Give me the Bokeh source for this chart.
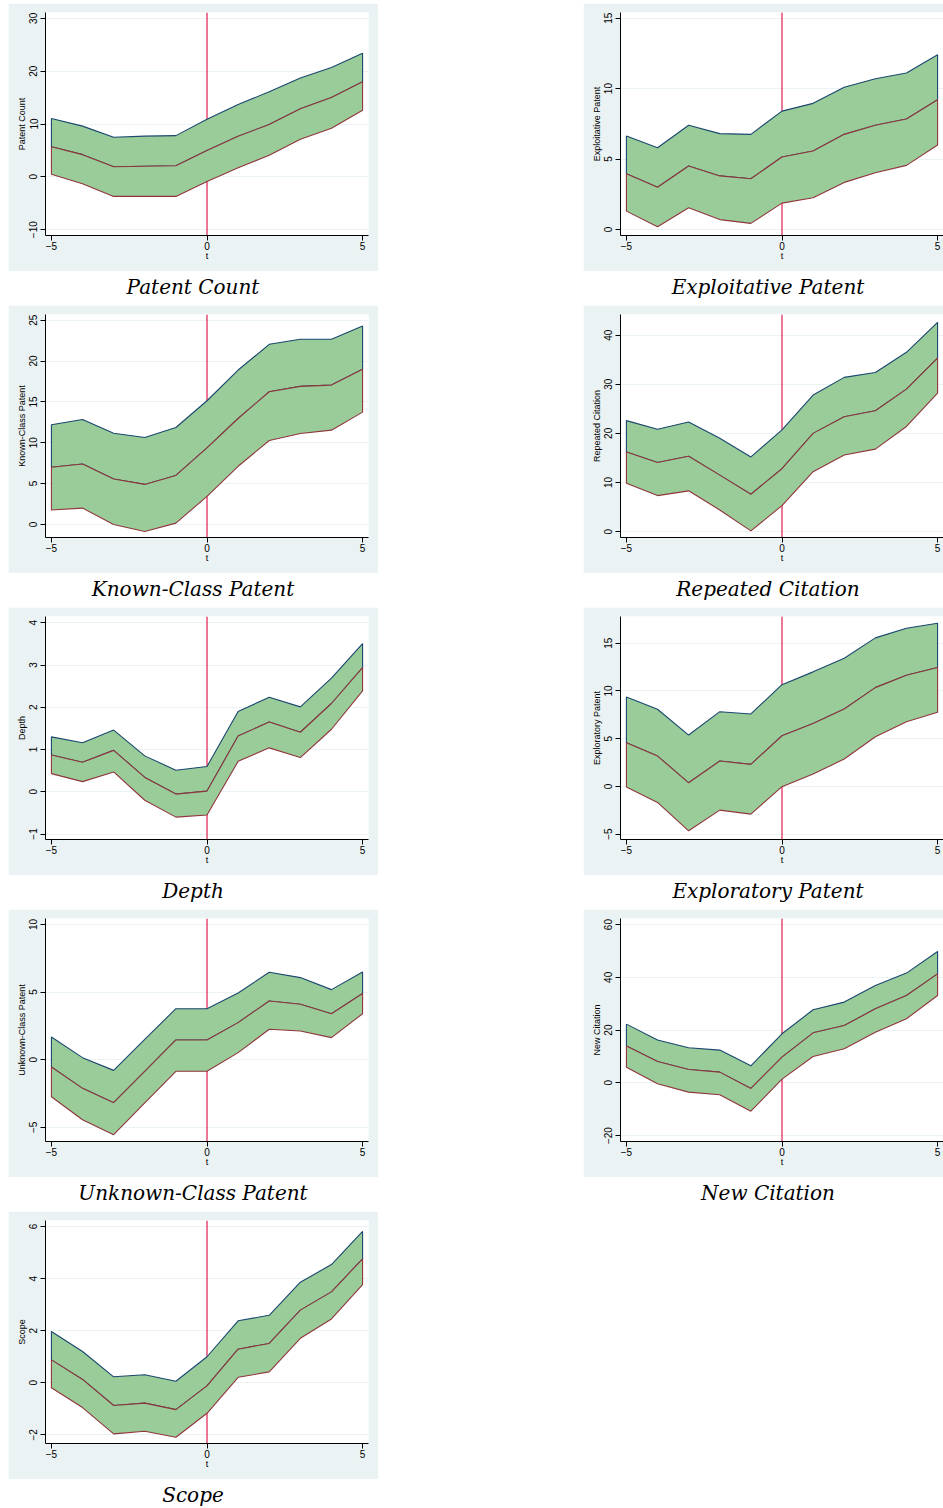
from bokeh.plotting import figure
from bokeh.layouts import row, column
from bokeh.models import Range1d, FixedTicker, Span, Spacer, CustomJSTickFormatter, Div
from bokeh.embed import file_html
from bokeh.resources import INLINE

# ---------------- data ----------------
t = [-5, -4, -3, -2, -1, 0, 1, 2, 3, 4, 5]
x_ticks = [-5, 0, 5]

patent_count_hi = [11.05, 9.6, 7.5, 7.7, 7.8, 10.9, 13.7, 16.1, 18.7, 20.7, 23.4]
patent_count_b = [5.7, 4.2, 1.9, 2.0, 2.1, 5.0, 7.7, 9.9, 12.9, 15.0, 18.0]
patent_count_lo = [0.5, -1.3, -3.7, -3.7, -3.7, -0.9, 1.7, 4.1, 7.1, 9.2, 12.6]

exploitative_hi = [6.63, 5.8, 7.4, 6.8, 6.75, 8.4, 8.95, 10.1, 10.7, 11.1, 12.4]
exploitative_b = [3.96, 3.0, 4.5, 3.8, 3.6, 5.14, 5.57, 6.75, 7.4, 7.84, 9.2]
exploitative_lo = [1.3, 0.19, 1.54, 0.7, 0.43, 1.87, 2.25, 3.34, 4.03, 4.55, 6.0]

known_class_hi = [12.2, 12.85, 11.17, 10.64, 11.87, 15.14, 18.9, 22.05, 22.67, 22.67, 24.3]
known_class_b = [7.0, 7.4, 5.56, 4.9, 6.0, 9.37, 12.97, 16.24, 16.9, 17.06, 19.0]
known_class_lo = [1.76, 2.0, 0.0, -0.86, 0.16, 3.44, 7.12, 10.27, 11.13, 11.54, 13.75]

repeated_cit_hi = [22.6, 20.85, 22.3, 19.0, 15.2, 20.7, 27.8, 31.4, 32.4, 36.5, 42.6]
repeated_cit_b = [16.2, 14.06, 15.35, 11.5, 7.6, 12.8, 20.0, 23.4, 24.6, 29.0, 35.3]
repeated_cit_lo = [9.85, 7.33, 8.3, 4.4, 0.14, 5.3, 12.2, 15.6, 16.8, 21.4, 28.2]

depth_hi = [1.30, 1.16, 1.46, 0.85, 0.51, 0.60, 1.90, 2.24, 2.01, 2.69, 3.51]
depth_b = [0.87, 0.70, 0.98, 0.34, -0.055, 0.016, 1.32, 1.65, 1.41, 2.09, 2.94]
depth_lo = [0.43, 0.24, 0.47, -0.20, -0.60, -0.55, 0.72, 1.04, 0.81, 1.48, 2.39]

exploratory_hi = [9.37, 8.08, 5.38, 7.83, 7.59, 10.66, 12.0, 13.43, 15.56, 16.57, 17.1]
exploratory_b = [4.58, 3.18, 0.38, 2.66, 2.31, 5.31, 6.6, 8.11, 10.35, 11.64, 12.45]
exploratory_lo = [-0.07, -1.68, -4.65, -2.48, -2.9, -0.03, 1.3, 2.87, 5.2, 6.78, 7.76]

unknown_class_hi = [1.68, 0.15, -0.79, 1.5, 3.77, 3.77, 4.93, 6.46, 6.07, 5.18, 6.49]
unknown_class_b = [-0.54, -2.12, -3.18, -0.86, 1.46, 1.46, 2.74, 4.34, 4.1, 3.4, 4.89]
unknown_class_lo = [-2.74, -4.44, -5.55, -3.2, -0.86, -0.86, 0.52, 2.25, 2.12, 1.63, 3.4]

new_cit_hi = [22.25, 16.2, 13.3, 12.4, 6.45, 18.6, 27.7, 30.6, 36.9, 41.6, 49.8]
new_cit_b = [14.0, 8.1, 5.06, 4.05, -2.15, 9.73, 18.96, 21.7, 28.07, 33.1, 41.3]
new_cit_lo = [5.94, -0.38, -3.54, -4.55, -10.75, 1.39, 10.0, 12.9, 19.2, 24.3, 33.1]

scope_hi = [1.97, 1.2, 0.23, 0.31, 0.06, 1.0, 2.38, 2.59, 3.86, 4.54, 5.81]
scope_b = [0.88, 0.13, -0.87, -0.78, -1.03, -0.12, 1.29, 1.51, 2.79, 3.49, 4.76]
scope_lo = [-0.19, -0.95, -1.96, -1.86, -2.09, -1.17, 0.21, 0.42, 1.71, 2.45, 3.77]

captions = ["Patent Count", "Exploitative Patent", "Known-Class Patent",
            "Repeated Citation", "Depth", "Exploratory Patent",
            "Unknown-Class Patent", "New Citation", "Scope"]
y_titles = ["Patent Count", "Exploitative Patent", "Known-Class Patent",
            "Repeated Citation", "Depth", "Exploratory Patent",
            "Unknown-Class Patent", "New Citation", "Scope"]
y_ticks = [[-10, 0, 10, 20, 30], [0, 5, 10, 15], [0, 5, 10, 15, 20, 25],
           [0, 10, 20, 30, 40], [-1, 0, 1, 2, 3, 4], [-5, 0, 5, 10, 15],
           [-5, 0, 5, 10], [-20, 0, 20, 40, 60], [-2, 0, 2, 4, 6]]
y_ranges = [(-11.1, 31.1), (-0.43, 15.4), (-1.6, 25.7), (-1.2, 44.2),
            (-1.13, 4.15), (-5.56, 17.8), (-6.05, 10.44), (-22.25, 62.3),
            (-2.33, 6.23)]
series = [
    (patent_count_lo, patent_count_b, patent_count_hi),
    (exploitative_lo, exploitative_b, exploitative_hi),
    (known_class_lo, known_class_b, known_class_hi),
    (repeated_cit_lo, repeated_cit_b, repeated_cit_hi),
    (depth_lo, depth_b, depth_hi),
    (exploratory_lo, exploratory_b, exploratory_hi),
    (unknown_class_lo, unknown_class_b, unknown_class_hi),
    (new_cit_lo, new_cit_b, new_cit_hi),
    (scope_lo, scope_b, scope_hi),
]

# ---------------- style ----------------
BG = "#EAF2F3"
GREEN = "#99CC99"
NAVY = "#1a476f"
MAROON = "#90353b"
VRED = "#dc1e50"
SANS = "Liberation Sans"
PANEL_W_LEFT = 370
PANEL_W_RIGHT = 360
PANEL_H = 268

minus_fmt = "return (tick < 0 ? '\\u2212' + Math.abs(tick) : '' + tick);"


def make_panel(i, right_side):
    lo, b, hi = series[i]
    w = PANEL_W_RIGHT if right_side else PANEL_W_LEFT
    p = figure(width=w, height=PANEL_H,
               x_range=Range1d(-5.19, 5.19),
               y_range=Range1d(*y_ranges[i]),
               toolbar_location=None, output_backend="svg",
               min_border_left=37, min_border_right=0 if right_side else 10,
               min_border_top=9, min_border_bottom=36)
    p.title.visible = False
    p.background_fill_color = "white"
    p.border_fill_color = BG
    p.outline_line_color = None
    p.xgrid.visible = False
    p.ygrid.grid_line_color = BG
    p.ygrid.grid_line_width = 1.2

    p.add_layout(Span(location=0, dimension="height", line_color=VRED,
                      line_width=1.2, level="underlay"))

    xs = list(t) + list(t)[::-1]
    p.patch(xs, list(b) + list(hi)[::-1], fill_color=GREEN, line_color=NAVY,
            line_width=1.1)
    p.patch(xs, list(lo) + list(b)[::-1], fill_color=GREEN, line_color=MAROON,
            line_width=1.1)

    for ax in (p.xaxis[0], p.yaxis[0]):
        ax.axis_line_color = "black"
        ax.axis_line_width = 1
        ax.major_tick_line_color = "black"
        ax.major_tick_out = 5
        ax.major_tick_in = 0
        ax.minor_tick_out = 0
        ax.minor_tick_in = 0
        ax.major_label_text_font = SANS
        ax.major_label_text_font_size = "10px"
        ax.major_label_text_color = "black"
        ax.axis_label_text_font = SANS
        ax.axis_label_text_font_size = "9px"
        ax.axis_label_text_font_style = "normal"
        ax.axis_label_text_color = "black"
        ax.formatter = CustomJSTickFormatter(code=minus_fmt)

    p.xaxis.ticker = FixedTicker(ticks=x_ticks)
    p.xaxis.axis_label = "t"
    p.xaxis.major_label_standoff = 1
    p.xaxis.axis_label_standoff = -2

    p.yaxis.ticker = FixedTicker(ticks=y_ticks[i])
    p.yaxis.axis_label = y_titles[i]
    p.yaxis.major_label_orientation = "vertical"
    p.yaxis.major_label_standoff = 3
    p.yaxis.axis_label_standoff = 0
    return p


def make_caption(i, right_side, h=34, top=6):
    w = PANEL_W_RIGHT if right_side else PANEL_W_LEFT
    inner_left = 10 if right_side else 0
    inner_w = 350 if right_side else 370
    html = (
        f'<div style="margin-top:{top}px;margin-left:{inner_left}px;'
        f'width:{inner_w}px;text-align:center;font-family:\'DejaVu Serif\';'
        f'font-style:italic;font-size:20px;line-height:20px;color:#000;'
        f'white-space:nowrap;">{captions[i]}</div>'
    )
    return Div(text=html, width=w, height=h, margin=0)


rows = [Spacer(width=10, height=3)]
for r in range(5):
    li = 2 * r
    last = (r == 4)
    left = column(make_panel(li, False),
                  make_caption(li, False, h=29 if last else 34))
    items = [Spacer(width=8, height=10), left]
    if li + 1 < 9:
        right = column(make_panel(li + 1, True), make_caption(li + 1, True))
        items += [Spacer(width=205, height=10), right]
    rows.append(row(*items))

layout = column(*rows)

open("out.html", "w").write(file_html(layout, INLINE))
